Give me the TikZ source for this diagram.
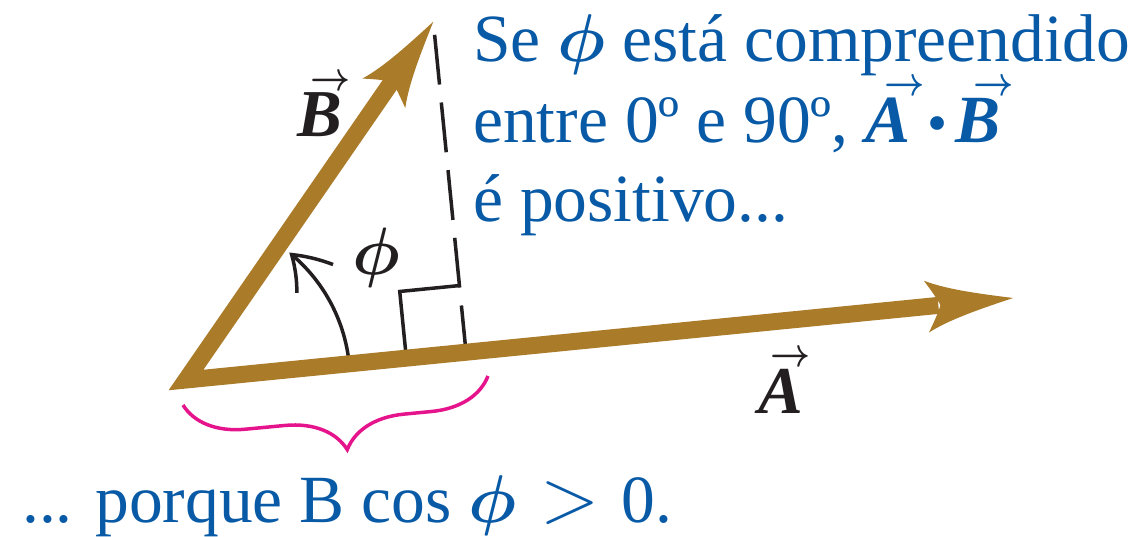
\RequirePackage{fix-cm}
\documentclass[tikz,border=0pt]{standalone}
\usepackage{fontspec}
\setmainfont{Liberation Serif}
\usetikzlibrary{calc,arrows.meta,bending,decorations.pathreplacing}
\definecolor{myblue}{RGB}{8,90,166}
\definecolor{vecbrown}{RGB}{170,123,40}
\definecolor{bracemag}{RGB}{230,20,140}
\definecolor{inkblack}{RGB}{35,31,32}
\newcommand{\vb}[2][0.25em]{\setbox0=\hbox{\bfseries\itshape #2}\rlap{\hspace*{#1}\raisebox{0.7em}{\scalebox{0.52}[0.6]{\boldmath$\rightarrow$}}}\box0}
\newcommand{\ph}{{\boldmath$\phi$}}
\begin{document}
\begin{tikzpicture}[x=1pt,y=1pt,
  shaft/.style={draw=vecbrown, line width=17pt, line join=miter},
  guide/.style={draw=inkblack, line width=3.5pt},
  dashguide/.style={guide, dash pattern=on 50pt off 18pt},
  anglearc/.style={guide, -{Straight Barb[length=34pt,width=46pt,bend]}},
  bracestyle/.style={draw=bracemag, line width=3.5pt, decorate, decoration={brace, mirror, amplitude=60pt, aspect=0.52}},
  txt/.style={text=myblue, font=\fontsize{67.5}{80}\selectfont, inner sep=0pt, anchor=base west},
  lbl/.style={text=inkblack, font=\fontsize{67}{80}\selectfont, inner sep=0pt},
  vechead/.pic={\fill[vecbrown] (0,0) .. controls (-35,-8) and (-65,-15) .. (-87,-26) .. controls (-81,-16) and (-75,-6) .. (-73,0) .. controls (-75,6) and (-81,16) .. (-87,26) .. controls (-65,15) and (-35,8) .. (0,0) -- cycle;}
]
\useasboundingbox (0,0) rectangle (1134,536);

% key points
\coordinate (O) at (186,156);
\coordinate (Atip) at (1013,238);
\coordinate (Btip) at (433.3,514.3);
\coordinate (F) at ($(O)!(Btip)!(Atip)$);
\coordinate (Dtop) at ($(F)!319pt!(Btip)$);
\coordinate (R1) at ($(F)!60pt!(O)$);
\coordinate (R3) at ($(F)!67pt!(Btip)$);
\coordinate (R2) at ($(R1)+(R3)-(F)$);
\coordinate (Aback) at ($(Atip)!75pt!(O)$);
\coordinate (Bback) at ($(Btip)!70pt!(O)$);
\coordinate (BrL) at (183,131);
\coordinate (BrR) at (488,160);

% guides
\draw[dashguide] (Dtop) -- (F);
\draw[guide] (R1) -- (R2) -- (R3);
\draw[anglearc] ([shift={(5.7:164pt)}]O) arc[start angle=5.7, end angle=51, radius=164pt];

% vectors
\draw[shaft] (Aback) -- (O) -- (Bback);
\path let \p1=($(Atip)-(O)$), \n1={atan2(\y1,\x1)} in (Atip) pic[rotate=\n1] {vechead};
\path let \p1=($(Btip)-(O)$), \n1={atan2(\y1,\x1)} in (Btip) pic[rotate=\n1] {vechead};

% brace
\draw[bracestyle] (BrL) -- (BrR);

% labels
\node[lbl, anchor=base west] (lblB) at (297,399) {\vb[0.2em]{B}};
\node[lbl, anchor=base west] (lblA) at (758,123) {\vb[0.18em]{A}};
\node[lbl] (lblphi) at (376,278.5) {\ph};

% texts
\node[txt] (l1) at (473,474) {Se \ph\ está compreendido};
\node[txt] (l2) at (473,393) {entre 0º e 90º, \vb[0.28em]{A}\hspace{17pt}\scalebox{0.85}{•}\hspace{8pt}\vb[0.26em]{B}};
\node[txt] (l3) at (473,314) {é positivo...};
\node[txt] (bot) at (22,14) {... porque B cos \ph\hspace{24pt}\scalebox{1.15}{$>$}\hspace{22pt}0.};
\end{tikzpicture}
\end{document}
